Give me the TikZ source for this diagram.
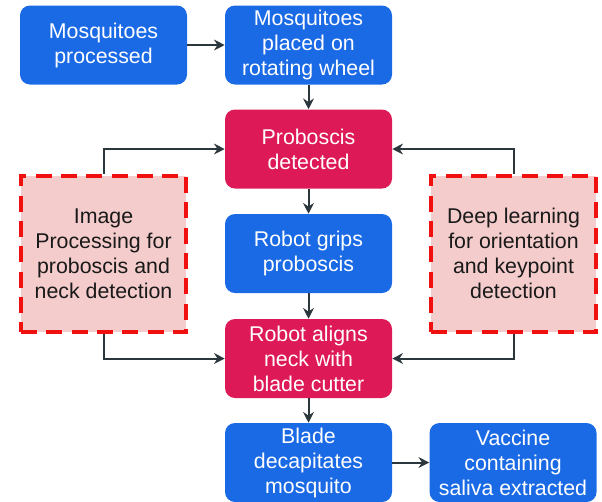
\documentclass[tikz,border=0pt]{standalone}
\usepackage{fontspec}
\setmainfont{Liberation Sans}
\usetikzlibrary{arrows.meta}
\definecolor{bblue}{HTML}{1A6AE6}
\definecolor{bred}{HTML}{DD1A57}
\definecolor{dred}{HTML}{F01010}
\definecolor{lpink}{HTML}{F4CCCC}
\definecolor{arrowc}{HTML}{2B373C}
\begin{document}
\begin{tikzpicture}[x=0.75pt,y=-0.75pt,
  box/.style={rounded corners=7.5pt, minimum width=125.25pt, minimum height=59.25pt,
    align=center, text=white, font=\fontsize{16}{18.75}\selectfont, inner sep=0pt},
  bluebox/.style={box, fill=bblue},
  redbox/.style={box, fill=bred},
  dbox/.style={draw=dred, fill=lpink, dash pattern=on 12pt off 7pt, line width=3pt,
    minimum width=124pt, minimum height=117pt, align=center, text=black!90,
    font=\fontsize{16}{18.75}\selectfont, inner sep=0pt},
  arr/.style={-{Stealth[length=8pt,width=8pt]}, line width=1.5pt, draw=arrowc}]
\useasboundingbox (0,0) rectangle (602,501);
\node[bluebox] (b1) at (103.5,45) {Mosquitoes\\processed};
\node[bluebox] (b2) at (308.5,45) {Mosquitoes\\placed on\\rotating wheel};
\node[redbox] (pd) at (308.5,149) {Proboscis\\detected};
\node[bluebox] (rg) at (308.5,253.5) {Robot grips\\proboscis};
\node[redbox] (ra) at (308.5,358.5) {Robot aligns\\neck with\\blade cutter};
\node[bluebox] (bd) at (308.5,462.5) {Blade\\decapitates\\mosquito};
\node[bluebox] (vc) at (513,462.5) {Vaccine\\containing\\saliva extracted};
\node[dbox] (ip) at (103.5,253.5) {Image\\Processing for\\proboscis and\\neck detection};
\node[dbox] (dl) at (513.5,253.5) {Deep learning\\for orientation\\and keypoint\\detection};
\draw[arr] (b1) -- (b2);
\draw[arr] (b2) -- (pd);
\draw[arr] (pd) -- (rg);
\draw[arr] (rg) -- (ra);
\draw[arr] (ra) -- (bd);
\draw[arr] (bd) -- (vc);
\draw[arr] (ip.north) |- (pd.west);
\draw[arr] (dl.north) |- (pd.east);
\draw[arr] (ip.south) |- (ra.west);
\draw[arr] (dl.south) |- (ra.east);
\end{tikzpicture}
\end{document}
